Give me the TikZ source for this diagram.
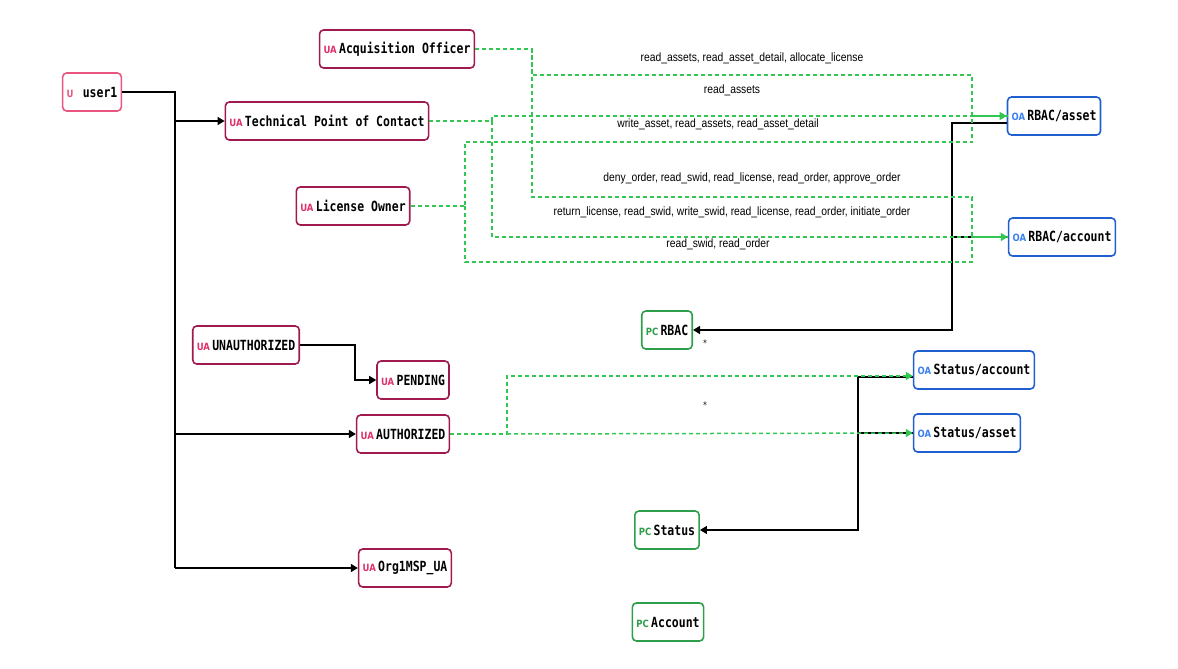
\documentclass[tikz,border=0pt]{standalone}
\usepackage{fontspec}
\setmainfont{DejaVu Sans Mono}[FakeStretch=0.82]
\newfontfamily\lblfont{Liberation Sans}[FakeStretch=0.86]
\newfontfamily\tagfont{DejaVu Sans}[FakeStretch=0.85]
\usetikzlibrary{arrows.meta}
\definecolor{uab}{HTML}{A0194F}
\definecolor{uat}{HTML}{E0306A}
\definecolor{ub}{HTML}{E8557F}
\definecolor{oab}{HTML}{1F5FD0}
\definecolor{oat}{HTML}{3A7FF0}
\definecolor{pcb}{HTML}{2E9E4A}
\definecolor{pct}{HTML}{2E9E4A}
\definecolor{grn}{HTML}{33C653}
\tikzset{
 box/.style={rounded corners=4pt,line width=1.6pt,minimum height=38pt,inner xsep=4pt,font=\fontsize{14}{16}\selectfont\bfseries},
 ua/.style={box,draw=uab},
 uu/.style={box,draw=ub},
 oa/.style={box,draw=oab},
 pc/.style={box,draw=pcb},
 blk/.style={line width=1.5pt,black},
 barr/.style={blk,-{Triangle[length=7pt,width=8pt]}},
 dsh/.style={line width=1.5pt,grn,dash pattern=on 4pt off 3pt},
 darr/.style={dsh,-{Triangle[length=7pt,width=8pt]}},
 lbl/.style={font=\lblfont\fontsize{12}{14}\selectfont,inner sep=1pt}
}
\newcommand{\tg}[2]{{\tagfont\fontsize{10}{12}\selectfont\color{#1}#2}\,}
\begin{document}
\begin{tikzpicture}[x=1pt,y=-1pt]
\useasboundingbox (0,0) rectangle (1178,669);
% nodes
\node[uu] (user1) at (92,92) {\tg{ub}{U} user1};
\node[ua] (ao) at (397,49) {\tg{uat}{UA}Acquisition Officer};
\node[ua] (tpoc) at (327,121) {\tg{uat}{UA}Technical Point of Contact};
\node[ua] (lo) at (353,206) {\tg{uat}{UA}License Owner};
\node[ua] (unauth) at (246,345) {\tg{uat}{UA}UNAUTHORIZED};
\node[ua] (pend) at (413,380) {\tg{uat}{UA}PENDING};
\node[ua] (auth) at (403,434) {\tg{uat}{UA}AUTHORIZED};
\node[ua] (org) at (405,568) {\tg{uat}{UA}Org1MSP\_UA};
\node[oa] (rasset) at (1054,116) {\tg{oat}{OA}RBAC/asset};
\node[oa] (racct) at (1062,237) {\tg{oat}{OA}RBAC/account};
\node[pc] (rbac) at (667,330) {\tg{pct}{PC}RBAC};
\node[oa] (sacct) at (974,370) {\tg{oat}{OA}Status/account};
\node[oa] (sasset) at (967,433) {\tg{oat}{OA}Status/asset};
\node[pc] (status) at (667,530) {\tg{pct}{PC}Status};
\node[pc] (acct) at (668,622) {\tg{pct}{PC}Account};
\node[font=\fontsize{9}{9}\selectfont] (s1) at (705,343) {*};
\node[font=\fontsize{9}{9}\selectfont] (s2) at (705,405) {*};
% black connectors
\coordinate (t) at (175,92);
\draw[blk] (user1.east) -| (t |- org.west);
\draw[barr] (t |- tpoc.west) -- (tpoc.west);
\draw[barr] (t |- auth.west) -- (auth.west);
\draw[barr] (t |- org.west) -- (org.west);
\draw[barr] (unauth.east) -| (355,380) -- (pend.west);
\coordinate (r) at (952,123);
\draw[barr] (rasset.west |- r) -| (r |- rbac.east) -- (rbac.east);
\draw[blk] (racct.west) -- (r |- racct.west);
\coordinate (q) at (858,377);
\draw[barr] (sacct.west |- q) -| (q |- status.east) -- (status.east);
\draw[blk] (sasset.west) -- (q |- sasset.west);
% dashed connectors
\coordinate (ja) at (532,49);
\coordinate (jt) at (492,121);
\coordinate (jl) at (465,206);
\coordinate (e) at (972,0);
\draw[dsh] (ao.east) -- (ja) |- (e |- 0,75) |- (rasset.west);
\draw[dsh] (ja) |- (e |- 0,197) |- (racct.west);
\draw[darr] (tpoc.east) -- (jt) |- (rasset.west);
\draw[darr] (jt) |- (racct.west);
\draw[dsh] (lo.east) -- (jl) |- (e |- 0,142) |- (rasset.west);
\draw[dsh] (jl) |- (e |- 0,262) |- (racct.west);
\coordinate (ju) at (507,434);
\draw[darr] (auth.east) -- (ju) |- ([yshift=-6pt]sacct.west);
\draw[darr] (ju) -- (sasset.west);
% labels
\node[lbl] (l1) at (752,58) {read\_assets, read\_asset\_detail, allocate\_license};
\node[lbl] (l2) at (732,90) {read\_assets};
\node[lbl] (l3) at (718,124) {write\_asset, read\_assets, read\_asset\_detail};
\node[lbl] (l4) at (752,178) {deny\_order, read\_swid, read\_license, read\_order, approve\_order};
\node[lbl] (l5) at (732,212) {return\_license, read\_swid, write\_swid, read\_license, read\_order, initiate\_order};
\node[lbl] (l6) at (718,244) {read\_swid, read\_order};
\end{tikzpicture}
\end{document}
